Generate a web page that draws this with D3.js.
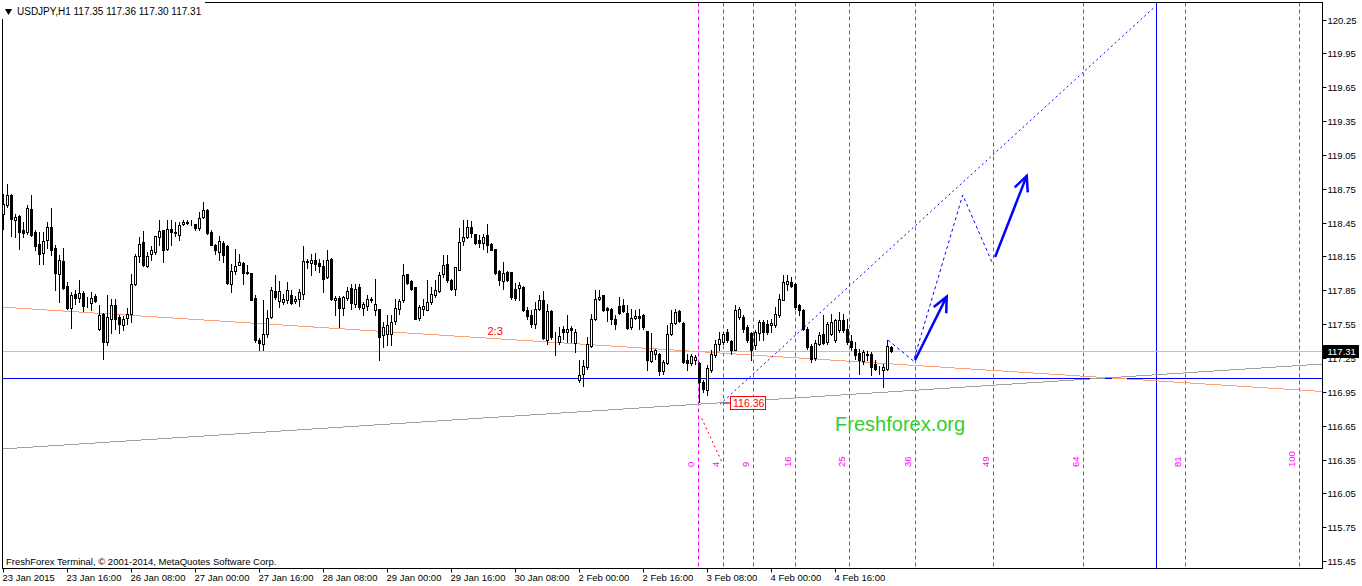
<!DOCTYPE html>
<html><head><meta charset="utf-8">
<script src="https://cdn.jsdelivr.net/npm/d3@7"></script>
<style>html,body{margin:0;padding:0;background:#fff;overflow:hidden}svg{display:block}text{font-family:"Liberation Sans",Arial,sans-serif}</style>
</head><body><svg id="c" width="1362" height="586"></svg>
<script>
// ---------- DATA ----------
const symbolTitle = "USDJPY,H1  117.35 117.36 117.30 117.31";
const copyrightText = "FreshForex Terminal, \u00a9 2001-2014, MetaQuotes Software Corp.";
const xTickLabels = ["23 Jan 2015","23 Jan 16:00","26 Jan 08:00","27 Jan 00:00","27 Jan 16:00","28 Jan 08:00","29 Jan 00:00","29 Jan 16:00","30 Jan 08:00","2 Feb 00:00","2 Feb 16:00","3 Feb 08:00","4 Feb 00:00","4 Feb 16:00"];
const xTickBars = [0,16,32,48,64,80,96,112,128,144,160,176,192,208];
const yTicks = [120.25,119.95,119.65,119.35,119.05,118.75,118.45,118.15,117.85,117.55,117.25,116.95,116.65,116.35,116.05,115.75,115.45];
const priceDomain = [115.45, 120.25];
const barDomain = [0, 330];

const opens = [118.528,118.608,118.691,118.475,118.505,118.381,118.366,118.575,118.366,118.257,118.183,118.298,118.407,118.227,117.997,118.109,117.891,117.690,117.820,117.778,117.829,117.722,117.740,117.796,117.507,117.640,117.389,117.598,117.722,117.613,117.545,117.607,117.643,117.908,118.156,118.274,118.068,118.168,118.189,118.322,118.384,118.218,118.395,118.360,118.339,118.440,118.449,118.443,118.440,118.404,118.499,118.558,118.366,118.248,118.189,118.268,118.245,117.908,118.021,118.077,118.094,118.009,118.000,117.778,117.407,117.377,117.466,117.613,117.840,117.755,117.749,117.761,117.805,117.752,117.776,117.820,118.100,118.091,118.115,118.088,118.065,117.967,118.130,117.767,117.784,117.690,117.784,117.874,117.732,117.879,117.696,117.708,117.761,117.673,117.682,117.451,117.466,117.460,117.578,117.688,117.761,117.992,117.933,117.879,117.605,117.688,117.673,117.747,117.806,117.841,117.992,118.080,117.944,117.865,118.033,118.287,118.322,118.411,118.352,118.299,118.269,118.337,118.263,118.219,118.021,117.933,118.012,118.012,117.865,117.874,117.879,117.673,117.629,117.555,117.688,117.761,117.413,117.664,117.440,117.392,117.510,117.481,117.516,117.384,117.053,117.112,117.171,117.354,117.599,117.773,117.806,117.697,117.688,117.599,117.708,117.717,117.649,117.525,117.608,117.626,117.634,117.487,117.224,117.283,117.289,117.133,117.206,117.466,117.560,117.664,117.560,117.230,117.206,117.229,117.206,117.038,116.970,117.141,117.274,117.377,117.392,117.480,117.401,117.324,117.613,117.613,117.525,117.471,117.362,117.471,117.569,117.554,117.539,117.539,117.628,117.767,117.908,117.923,117.902,117.717,117.672,117.510,117.353,117.253,117.377,117.460,117.392,117.466,117.407,117.495,117.590,117.510,117.401,117.333,117.294,117.224,117.289,117.289,117.200,117.156,117.147,117.156,117.350];
const highs = [118.705,118.794,118.705,118.528,118.519,118.454,118.608,118.691,118.381,118.366,118.366,118.460,118.578,118.248,118.159,118.227,117.923,117.835,117.849,117.938,117.840,117.790,117.835,117.820,117.716,117.649,117.805,117.775,117.775,117.628,117.619,117.693,117.991,118.174,118.322,118.378,118.189,118.245,118.336,118.469,118.387,118.469,118.469,118.454,118.454,118.469,118.475,118.475,118.440,118.543,118.637,118.567,118.381,118.257,118.336,118.283,118.248,118.085,118.218,118.174,118.100,118.071,118.006,117.805,117.427,117.761,117.672,117.879,117.982,117.932,117.820,117.923,117.849,117.799,117.864,118.239,118.130,118.168,118.180,118.130,118.121,118.204,118.139,117.802,117.796,117.799,117.879,117.909,117.909,117.909,117.747,117.806,117.791,117.953,117.682,117.570,117.629,117.629,117.776,117.776,118.080,117.992,117.939,117.879,117.717,117.776,117.944,117.879,117.939,118.012,118.160,118.160,117.953,118.057,118.405,118.470,118.470,118.464,118.352,118.337,118.346,118.440,118.269,118.219,118.027,118.101,118.018,118.012,117.915,117.924,117.885,117.702,117.673,117.747,117.806,117.844,117.732,117.673,117.481,117.525,117.531,117.634,117.531,117.510,117.230,117.230,117.437,117.643,117.856,117.856,117.812,117.702,117.697,117.629,117.791,117.776,117.717,117.688,117.673,117.688,117.643,117.487,117.475,117.334,117.295,117.236,117.540,117.673,117.688,117.673,117.570,117.289,117.289,117.280,117.215,117.052,117.185,117.318,117.407,117.480,117.480,117.510,117.407,117.717,117.702,117.628,117.539,117.480,117.495,117.584,117.584,117.584,117.598,117.702,117.820,117.982,117.982,117.967,117.914,117.731,117.687,117.525,117.377,117.407,117.480,117.628,117.569,117.643,117.598,117.657,117.643,117.598,117.451,117.392,117.333,117.318,117.312,117.303,117.229,117.180,117.200,117.407,117.360];
const lows = [118.395,118.587,118.336,118.322,118.218,118.322,118.351,118.336,118.209,118.085,118.080,118.224,118.159,117.849,117.746,117.864,117.687,117.519,117.731,117.746,117.663,117.702,117.672,117.746,117.495,117.244,117.362,117.474,117.510,117.471,117.501,117.554,117.569,117.894,118.100,118.062,118.056,118.115,118.174,118.248,118.100,118.204,118.248,118.336,118.292,118.431,118.440,118.425,118.387,118.387,118.493,118.351,118.248,118.174,118.115,118.100,117.908,117.835,117.997,118.071,117.908,117.997,117.761,117.392,117.318,117.318,117.436,117.607,117.775,117.702,117.731,117.740,117.731,117.740,117.708,117.775,118.047,117.982,118.027,118.012,117.835,117.959,117.767,117.628,117.525,117.634,117.761,117.688,117.702,117.688,117.629,117.673,117.747,117.629,117.236,117.348,117.363,117.363,117.549,117.643,117.747,117.909,117.850,117.593,117.584,117.629,117.673,117.732,117.791,117.835,117.968,117.924,117.850,117.806,118.027,118.248,118.316,118.322,118.263,118.234,118.219,118.189,118.204,117.992,117.894,117.865,117.933,117.776,117.761,117.761,117.664,117.599,117.525,117.519,117.673,117.422,117.378,117.422,117.274,117.372,117.422,117.392,117.392,117.304,117.038,116.999,117.156,117.348,117.584,117.767,117.664,117.578,117.555,117.510,117.643,117.658,117.510,117.510,117.599,117.510,117.504,117.141,117.215,117.245,117.097,117.112,117.200,117.451,117.555,117.570,117.209,117.147,117.185,117.200,116.860,116.949,116.919,117.126,117.259,117.318,117.377,117.392,117.289,117.318,117.598,117.480,117.392,117.229,117.333,117.407,117.407,117.466,117.480,117.525,117.613,117.761,117.849,117.879,117.687,117.628,117.495,117.333,117.215,117.229,117.362,117.377,117.377,117.451,117.392,117.480,117.480,117.377,117.318,117.244,117.111,117.200,117.229,117.097,117.141,117.110,116.993,117.141,117.300];
const closes = [118.617,118.697,118.484,118.496,118.366,118.360,118.581,118.342,118.245,118.174,118.289,118.413,118.204,118.006,118.115,117.867,117.693,117.805,117.781,117.823,117.714,117.720,117.784,117.755,117.628,117.392,117.610,117.716,117.598,117.551,117.598,117.643,117.908,118.156,118.263,118.071,118.156,118.209,118.328,118.378,118.209,118.392,118.366,118.363,118.425,118.460,118.460,118.449,118.401,118.493,118.564,118.357,118.254,118.204,118.289,118.159,117.914,118.018,118.068,118.103,118.003,118.006,117.767,117.407,117.386,117.466,117.607,117.849,117.790,117.843,117.773,117.849,117.740,117.770,117.832,118.109,118.112,118.115,118.080,118.065,117.950,118.115,117.773,117.784,117.690,117.790,117.840,117.741,117.865,117.702,117.726,117.776,117.770,117.732,117.437,117.525,117.540,117.567,117.696,117.753,117.983,117.918,117.859,117.599,117.702,117.711,117.747,117.820,117.850,117.983,118.071,117.939,117.865,118.057,118.278,118.322,118.411,118.358,118.269,118.269,118.322,118.248,118.210,118.003,117.939,118.006,117.939,117.791,117.785,117.894,117.673,117.623,117.549,117.688,117.761,117.428,117.667,117.437,117.437,117.443,117.481,117.510,117.496,117.478,117.097,117.180,117.372,117.599,117.770,117.791,117.673,117.679,117.599,117.555,117.652,117.664,117.519,117.605,117.623,117.608,117.525,117.230,117.310,117.319,117.133,117.215,117.466,117.560,117.658,117.575,117.215,117.206,117.265,117.259,117.038,116.979,117.164,117.282,117.377,117.421,117.466,117.407,117.318,117.678,117.687,117.510,117.407,117.318,117.480,117.569,117.480,117.480,117.560,117.643,117.776,117.923,117.929,117.885,117.702,117.672,117.510,117.348,117.244,117.383,117.451,117.383,117.554,117.569,117.584,117.584,117.501,117.392,117.348,117.274,117.229,117.303,117.274,117.170,117.156,117.150,117.170,117.353,117.310];

const bidPrice = 117.31;
const supportPrice = 117.07;
const fibAnchorBar = 174, fibBarsPerUnit = 1.5;
const fibZones = [0,4,9,16,25,36,49,64,81,100];
const timeMarkerBar = 288;
const salmonTrend = [[-1,117.703],[331,116.951]];
const grayTrend = [[-1,116.443],[331,117.200]];
const blueChannel = [[179.1,116.84],[287.75,120.36]];
const redDotted = [[174.55,116.716],[179.55,116.332]];
const forecastZigzag = [[221.1,117.410],[227.5,117.224],[239.8,118.695],[247.1,118.101]];
const forecastArrows = [[[227.9,117.233],[235.8,117.794]],[[247.9,118.146],[255.8,118.864]]];
const lowLabel = {text:"116.36", bar:181.6, price:116.85, fromBar:179.8};
const ratioLabel = {text:"2:3", bar:121, price:117.454};
const watermark = {text:"Freshforex.org", bar:207.9, price:116.603};

// ---------- LAYOUT ----------
const L = 2.5, T = 2.5, R = 1322.5, B = 568.5;
const svg = d3.select("#c");
const x = d3.scaleLinear().domain(barDomain).range([3.5, 3.5 + 4*barDomain[1]]);
const y = d3.scaleLinear().domain(priceDomain).range([561.2, 19.5]);

svg.append("defs").append("clipPath").attr("id","clip").append("rect")
  .attr("x",L+0.5).attr("y",T+0.5).attr("width",R-L-1).attr("height",B-T-1);
svg.select("defs").append("marker").attr("id","arr").attr("viewBox","-20 -10 24 20")
  .attr("refX",0).attr("refY",0).attr("markerWidth",24).attr("markerHeight",20)
  .attr("markerUnits","userSpaceOnUse").attr("orient","auto")
  .append("path").attr("d","M-15,-7L0,0L-15,7").attr("fill","none").attr("stroke","#0000ff").attr("stroke-width",2.5);

const plot = svg.append("g").attr("clip-path","url(#clip)");
const line = d3.line().x(d=>x(d[0])).y(d=>y(d[1]));

// fib time zones (magenta dashed verticals)
plot.append("g").selectAll("line").data(fibZones).join("line")
  .attr("x1",d=>Math.round(x(fibAnchorBar+d*fibBarsPerUnit))-0.5)
  .attr("x2",d=>Math.round(x(fibAnchorBar+d*fibBarsPerUnit))-0.5)
  .attr("y1",T).attr("y2",B).attr("stroke","#ff00ff").attr("stroke-dasharray","4,3");
plot.append("g").selectAll("text").data(fibZones).join("text")
  .attr("transform",d=>`translate(${Math.round(x(fibAnchorBar+d*fibBarsPerUnit))-5},467) rotate(-90)`)
  .attr("font-size","9.5px").attr("fill","#ff00ff").text(d=>d);

// time marker (blue vertical)
plot.append("line").attr("x1",Math.round(x(timeMarkerBar))+0.5).attr("x2",Math.round(x(timeMarkerBar))+0.5)
  .attr("y1",T).attr("y2",B).attr("stroke","#0000ff");

// horizontal lines
plot.append("line").attr("x1",L).attr("x2",R).attr("y1",Math.round(y(bidPrice))+0.5).attr("y2",Math.round(y(bidPrice))+0.5).attr("stroke","#c0c0c0");
plot.append("line").attr("x1",L).attr("x2",R).attr("y1",Math.round(y(supportPrice))+0.5).attr("y2",Math.round(y(supportPrice))+0.5).attr("stroke","#0000ff");

// trendlines
plot.append("path").attr("d",line(salmonTrend)).attr("stroke","#ffa07a").attr("fill","none").attr("shape-rendering","crispEdges");
plot.append("path").attr("d",line(grayTrend)).attr("stroke","#a0a0a0").attr("fill","none").attr("shape-rendering","crispEdges");

// candles
const bars = opens.map((o,i)=>({i,o,h:highs[i],l:lows[i],c:closes[i]}));
const cg = plot.append("g").attr("shape-rendering","crispEdges");
cg.selectAll("line").data(bars).join("line")
  .attr("x1",d=>x(d.i)).attr("x2",d=>x(d.i))
  .attr("y1",d=>Math.round(y(d.h))).attr("y2",d=>Math.round(y(d.l))+1).attr("stroke","#000");
cg.selectAll("rect").data(bars).join("rect")
  .attr("x",d=>x(d.i)-1).attr("width",2)
  .attr("y",d=>Math.round(y(Math.max(d.o,d.c)))+0.5)
  .attr("height",d=>Math.round(y(Math.min(d.o,d.c)))-Math.round(y(Math.max(d.o,d.c))))
  .attr("fill",d=>d.c>=d.o?"#fff":"#000").attr("stroke","#000");

// drawings over the chart
plot.append("path").attr("d",line(blueChannel)).attr("stroke","#0000ff").attr("fill","none").attr("stroke-dasharray","2,3");
plot.append("path").attr("d",line(redDotted)).attr("stroke","#ff0000").attr("fill","none").attr("stroke-dasharray","2,3");
plot.append("path").attr("d",line(forecastZigzag)).attr("stroke","#0000ff").attr("fill","none").attr("stroke-dasharray","3,3");
plot.append("g").selectAll("path").data(forecastArrows).join("path")
  .attr("d",d=>line(d)).attr("stroke","#0000ff").attr("stroke-width",2.5).attr("fill","none").attr("marker-end","url(#arr)");

// low label
const lx = x(lowLabel.bar), ly = y(lowLabel.price);
plot.append("line").attr("x1",x(lowLabel.fromBar)).attr("x2",lx).attr("y1",ly).attr("y2",ly).attr("stroke","#ff0000");
plot.append("rect").attr("x",Math.round(lx)+0.5).attr("y",Math.round(ly)-6.5).attr("width",35).attr("height",13).attr("fill","#fff").attr("stroke","#ff0000");
plot.append("text").attr("x",Math.round(lx)+3).attr("y",Math.round(ly)+4).attr("font-size","10.5px").attr("fill","#ff0000").text(lowLabel.text);

plot.append("text").attr("x",x(ratioLabel.bar)).attr("y",y(ratioLabel.price)).attr("font-size","11px").attr("fill","#ff0000").text(ratioLabel.text);
plot.append("text").attr("x",x(watermark.bar)).attr("y",y(watermark.price)).attr("font-size","20px").attr("fill","#33cc33").text(watermark.text);

// frame
svg.append("rect").attr("x",L).attr("y",T).attr("width",R-L).attr("height",B-T).attr("fill","none").attr("stroke","#000");

// y axis
const ya = svg.append("g");
ya.selectAll("line").data(yTicks).join("line").attr("x1",R).attr("x2",R+4)
  .attr("y1",d=>Math.round(y(d))+0.5).attr("y2",d=>Math.round(y(d))+0.5).attr("stroke","#000");
ya.selectAll("text").data(yTicks).join("text").attr("x",R+5).attr("y",d=>Math.round(y(d))+4)
  .attr("font-size","9.5px").attr("fill","#000").text(d=>d.toFixed(2));
// bid price box
const by = Math.round(y(bidPrice));
svg.append("rect").attr("x",R+0.5).attr("y",by-6).attr("width",36).attr("height",13).attr("fill","#000");
svg.append("text").attr("x",R+5).attr("y",by+4).attr("font-size","9.5px").attr("fill","#fff").text(bidPrice.toFixed(2));

// x axis
const xa = svg.append("g");
xa.selectAll("line").data(xTickBars).join("line").attr("x1",d=>x(d)).attr("x2",d=>x(d))
  .attr("y1",B).attr("y2",B+4).attr("stroke","#000");
xa.selectAll("text").data(xTickLabels).join("text").attr("x",(d,i)=>x(xTickBars[i])-1).attr("y",581)
  .attr("font-size","9.5px").attr("fill","#000").text(d=>d);

// title & copyright
svg.append("rect").attr("x",0).attr("y",0).attr("width",205).attr("height",19).attr("fill","#fff");
svg.append("path").attr("d",d3.symbol(d3.symbolTriangle,22)()).attr("transform","translate(8.5,11) rotate(180)").attr("fill","#000");
svg.append("text").attr("x",17).attr("y",14.5).attr("font-size","10px").attr("fill","#000").text(symbolTitle);
svg.append("text").attr("x",6).attr("y",564.5).attr("font-size","9.5px").attr("fill","#000").text(copyrightText);
</script></body></html>
